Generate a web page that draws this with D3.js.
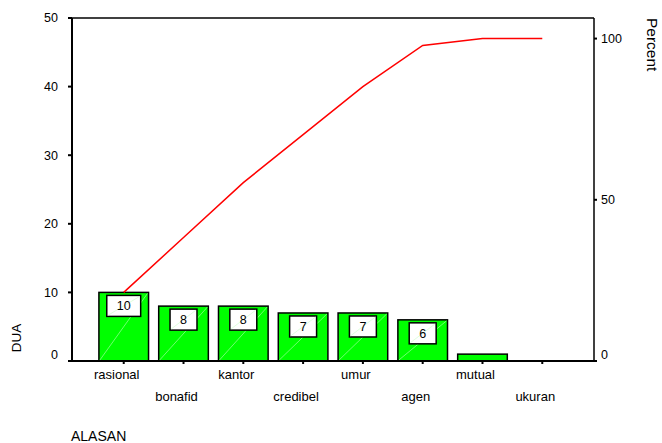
<!DOCTYPE html>
<html>
<head>
<meta charset="utf-8">
<script src="https://cdn.jsdelivr.net/npm/d3@7/dist/d3.min.js"></script>
<style>
  html, body { margin: 0; padding: 0; background: #fff; }
  svg { display: block; font-family: Arial, "Liberation Sans", sans-serif; }
</style>
</head>
<body>
<svg id="chart" width="662" height="443"></svg>
<script>
const categories = ["rasional", "bonafid", "kantor", "credibel", "umur", "agen", "mutual", "ukuran"];
const counts = [10, 8, 8, 7, 7, 6, 1, 0];
const leftTicks = [0, 10, 20, 30, 40, 50];
const rightTicks = [0, 50, 100];
const yTitle = "DUA";
const xTitle = "ALASAN";
const rightTitle = "Percent";

const total = d3.sum(counts);
const cumulative = d3.cumsum(counts);

const svg = d3.select("#chart");
const pLeft = 72, pRight = 594, pTop = 18, pBottom = 361;

const x = d3.scaleBand().domain(categories).range([pLeft, pRight])
  .paddingInner(0.17).paddingOuter(0.45);
const y = d3.scaleLinear().domain([0, 50]).range([pBottom, pTop]);
const yPct = d3.scaleLinear().domain([0, 100]).range([pBottom, y(total)]);

// Frame
svg.append("line").attr("x1", pLeft).attr("x2", pRight).attr("y1", pTop).attr("y2", pTop)
  .attr("stroke", "#000").attr("stroke-width", 1.5);
svg.append("line").attr("x1", pLeft).attr("x2", pLeft).attr("y1", pTop).attr("y2", pBottom)
  .attr("stroke", "#000").attr("stroke-width", 2);
svg.append("line").attr("x1", pRight).attr("x2", pRight).attr("y1", pTop).attr("y2", pBottom)
  .attr("stroke", "#000").attr("stroke-width", 1.5);

// Left axis ticks and labels
const lt = svg.append("g");
lt.selectAll("line").data(leftTicks).join("line")
  .attr("x1", pLeft - 4).attr("x2", pLeft).attr("y1", d => y(d)).attr("y2", d => y(d))
  .attr("stroke", "#000").attr("stroke-width", 2);
lt.selectAll("text").data(leftTicks).join("text")
  .attr("x", pLeft - 14).attr("y", d => y(d) + (d === 0 ? -6 : 0))
  .attr("dy", "0.35em").attr("text-anchor", "end")
  .attr("font-size", 12.5).attr("fill", "#000").text(d => d);

// Right axis ticks and labels
const rt = svg.append("g");
rt.selectAll("line").data(rightTicks).join("line")
  .attr("x1", pRight).attr("x2", pRight + 3).attr("y1", d => yPct(d)).attr("y2", d => yPct(d))
  .attr("stroke", "#000").attr("stroke-width", 2);
rt.selectAll("text").data(rightTicks).join("text")
  .attr("x", pRight + 7).attr("y", d => yPct(d) + (d === 0 ? -6 : 0))
  .attr("dy", "0.35em").attr("text-anchor", "start")
  .attr("font-size", 12.5).attr("fill", "#000").text(d => d);

// Bars
const bars = svg.append("g");
bars.selectAll("rect").data(categories).join("rect")
  .attr("x", d => x(d)).attr("width", x.bandwidth())
  .attr("y", (d, i) => y(counts[i]))
  .attr("height", (d, i) => y(0) - y(counts[i]))
  .attr("fill", (d, i) => counts[i] > 0 ? "#00ff00" : "none")
  .attr("stroke", (d, i) => counts[i] > 0 ? "#000" : "none")
  .attr("stroke-width", 1.5);
// faint diagonal artifacts inside bars
bars.selectAll("line.diag").data(categories.filter((d, i) => counts[i] > 1)).join("line")
  .attr("class", "diag")
  .attr("x1", d => x(d) + 1).attr("y1", y(0) - 1)
  .attr("x2", d => x(d) + x.bandwidth() - 1)
  .attr("y2", d => y(counts[categories.indexOf(d)]) + 1)
  .attr("stroke", "#b8ffb8").attr("stroke-width", 0.6);

// Baseline and x ticks
svg.append("line").attr("x1", pLeft - 4).attr("x2", pRight + 3).attr("y1", pBottom).attr("y2", pBottom)
  .attr("stroke", "#000").attr("stroke-width", 2);
svg.append("g").selectAll("line").data(categories).join("line")
  .attr("x1", d => x(d) + x.bandwidth() / 2).attr("x2", d => x(d) + x.bandwidth() / 2)
  .attr("y1", pBottom).attr("y2", pBottom + 3)
  .attr("stroke", "#000").attr("stroke-width", 2);

// Value label boxes
const lbl = svg.append("g").selectAll("g").data(categories.filter((d, i) => counts[i] > 1)).join("g");
lbl.each(function(d) {
  const i = categories.indexOf(d);
  const g = d3.select(this);
  const cx = x(d) + x.bandwidth() / 2;
  const t = g.append("text").attr("x", cx).attr("text-anchor", "middle")
    .attr("font-size", 12.5).attr("fill", "#000").text(counts[i]);
  const tw = t.node().getComputedTextLength();
  const bw = tw + 20, bh = 21;
  const by = y(counts[i]) + 3;
  g.insert("rect", "text").attr("x", cx - bw / 2).attr("y", by).attr("width", bw).attr("height", bh)
    .attr("fill", "#fff").attr("stroke", "#000").attr("stroke-width", 1.5);
  g.insert("line", "text").attr("x1", cx - bw / 2 + 1).attr("y1", by + bh - 1)
    .attr("x2", cx + bw / 2 - 1).attr("y2", by + 1)
    .attr("stroke", "#c8ffc8").attr("stroke-width", 0.6);
  t.attr("y", by + bh / 2).attr("dy", "0.35em");
});

// Cumulative line
const line = d3.line()
  .x((d, i) => x(categories[i]) + x.bandwidth() / 2)
  .y(d => yPct(d / total * 100));
svg.append("path").datum(cumulative).attr("d", line)
  .attr("fill", "none").attr("stroke", "#ff0000").attr("stroke-width", 1.5);

// X labels (staggered)
svg.append("g").selectAll("text").data(categories).join("text")
  .attr("x", d => x(d) + x.bandwidth() / 2 - 7)
  .attr("y", (d, i) => i % 2 === 0 ? 379 : 401)
  .attr("text-anchor", "middle").attr("font-size", 13).attr("fill", "#000").text(d => d);

// Titles
svg.append("text").attr("transform", "translate(20.5,338) rotate(-90)")
  .attr("text-anchor", "middle").attr("font-size", 13.5).attr("fill", "#000").text(yTitle);
svg.append("text").attr("x", 71).attr("y", 441)
  .attr("font-size", 14).attr("fill", "#000").text(xTitle);
svg.append("text").attr("transform", "translate(647,18) rotate(90)")
  .attr("text-anchor", "start").attr("font-size", 15.5).attr("fill", "#000").text(rightTitle);
</script>
</body>
</html>
